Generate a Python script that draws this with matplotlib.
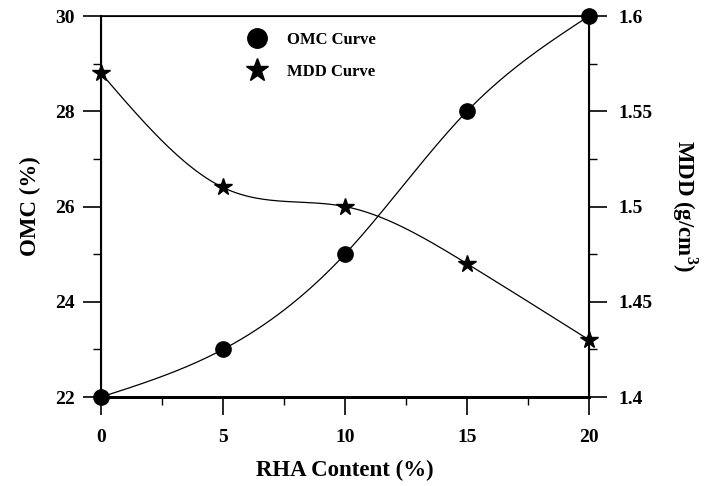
import numpy as np
import matplotlib
matplotlib.use("Agg")
import matplotlib.pyplot as plt
from matplotlib.ticker import MultipleLocator, FixedLocator
from matplotlib.lines import Line2D

rha = [0, 5, 10, 15, 20]
omc = [22, 23, 25, 28, 30]
mdd = [1.57, 1.51, 1.50, 1.47, 1.43]


def natural_spline(x, y, n=200):
    x = np.asarray(x, float); y = np.asarray(y, float)
    m = len(x); h = np.diff(x)
    A = np.zeros((m, m)); b = np.zeros(m)
    A[0, 0] = 1; A[-1, -1] = 1
    for i in range(1, m - 1):
        A[i, i - 1] = h[i - 1]; A[i, i] = 2 * (h[i - 1] + h[i]); A[i, i + 1] = h[i]
        b[i] = 3 * ((y[i + 1] - y[i]) / h[i] - (y[i] - y[i - 1]) / h[i - 1])
    c = np.linalg.solve(A, b)
    xs = np.linspace(x[0], x[-1], n); ys = np.empty_like(xs)
    for k, xv in enumerate(xs):
        i = min(np.searchsorted(x, xv, side='right') - 1, m - 2)
        dx = xv - x[i]
        bi = (y[i + 1] - y[i]) / h[i] - h[i] * (2 * c[i] + c[i + 1]) / 3
        di = (c[i + 1] - c[i]) / (3 * h[i])
        ys[k] = y[i] + bi * dx + c[i] * dx ** 2 + di * dx ** 3
    return xs, ys


plt.rcParams['font.family'] = ['Liberation Serif', 'DejaVu Serif']
plt.rcParams['font.weight'] = 'bold'
plt.rcParams['mathtext.fontset'] = 'custom'
plt.rcParams['mathtext.bf'] = 'Liberation Serif:bold'
plt.rcParams['mathtext.rm'] = 'Liberation Serif:bold'

fig = plt.figure(figsize=(7.04, 4.86), dpi=100)
ax = fig.add_axes([0.1435, 0.1831, 0.6931, 0.7839])
ax2 = ax.twinx()

xs, ys = natural_spline(rha, omc)
ax.plot(xs, ys, color='black', lw=0.9)
ax.plot(rha, omc, 'o', color='black', ms=11, clip_on=False, zorder=5)
xs2, ys2 = natural_spline(rha, mdd)
ax2.plot(xs2, ys2, color='black', lw=0.9)
ax2.plot(rha, mdd, '*', color='black', ms=13, clip_on=False, zorder=5)

ax.set_xlim(0, 20)
ax.set_ylim(22, 30)
ax2.set_ylim(1.4, 1.6)

ax.xaxis.set_major_locator(MultipleLocator(5))
ax.xaxis.set_minor_locator(MultipleLocator(2.5))
ax.yaxis.set_major_locator(MultipleLocator(2))
ax.yaxis.set_minor_locator(MultipleLocator(1))
ax2.yaxis.set_major_locator(FixedLocator([1.4, 1.45, 1.5, 1.55, 1.6]))
ax2.yaxis.set_minor_locator(FixedLocator([1.425, 1.475, 1.525, 1.575]))
ax2.set_yticklabels(['1.4', '1.45', '1.5', '1.55', '1.6'])

for a in (ax, ax2):
    a.tick_params(which='major', direction='out', length=13, width=1.2, labelsize=14, pad=6)
    a.tick_params(which='minor', direction='out', length=6, width=1.0)
    for lab in a.get_xticklabels() + a.get_yticklabels():
        lab.set_fontweight('bold')
ax.tick_params(axis='x', pad=10)
ax2.tick_params(axis='y', which='major', pad=8)

ax.spines['bottom'].set_linewidth(2.0)
ax.spines['left'].set_linewidth(1.5)
ax.spines['top'].set_linewidth(1.2)
ax2.spines['right'].set_linewidth(1.5)
ax2.spines['bottom'].set_linewidth(2.0)

ax.set_xlabel('RHA Content (%)', fontsize=16.5, fontweight='bold', labelpad=10)
ax.set_ylabel('OMC (%)', fontsize=16.5, fontweight='bold', labelpad=10)
ax2.set_ylabel('MDD (g/cm$^{\\mathbf{3}}$)', fontsize=16.5, fontweight='bold', rotation=270, labelpad=34)

handles = [Line2D([], [], marker='o', ls='none', color='black', ms=14),
           Line2D([], [], marker='*', ls='none', color='black', ms=17)]
ax.legend(handles, ['OMC Curve', 'MDD Curve'], loc='upper left', bbox_to_anchor=(0.255, 0.997),
          frameon=False, prop={'family': 'Liberation Serif', 'weight': 'bold', 'size': 12},
          handletextpad=0.8, labelspacing=0.95)

fig.savefig('out.png', dpi=100)
